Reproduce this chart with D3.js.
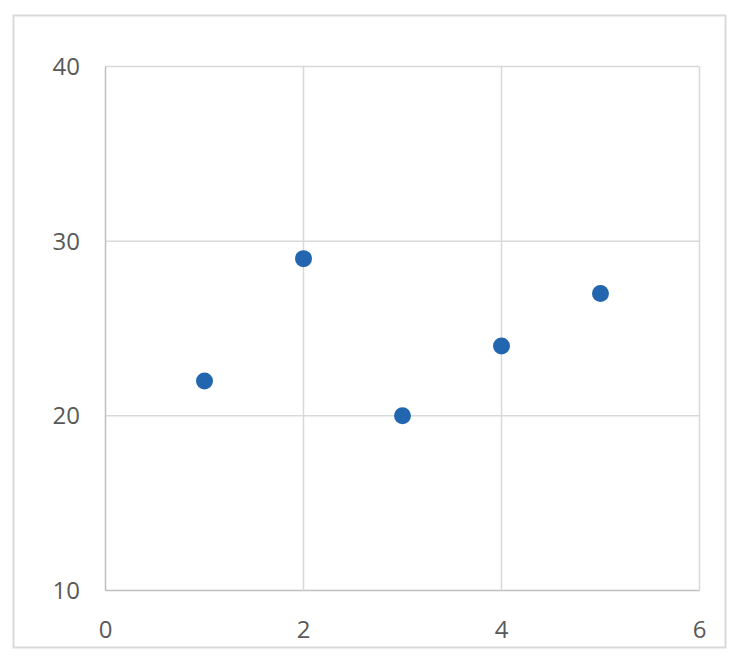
<!DOCTYPE html>
<html><head><meta charset="utf-8">
<script src="https://cdn.jsdelivr.net/npm/d3@7"></script>
<style>body{margin:0;background:#fff}svg{display:block}</style>
</head><body>
<script>
const xValues = [1, 2, 3, 4, 5];
const yValues = [22, 29, 20, 24, 27];
const xTicks = [0, 2, 4, 6];
const yTicks = [10, 20, 30, 40];

const W = 734, H = 656;
const svg = d3.select("body").append("svg").attr("width", W).attr("height", H);
svg.append("rect").attr("x", 13.5).attr("y", 15.5).attr("width", 712).attr("height", 632)
  .attr("fill", "#fff").attr("stroke", "#d9d9d9").attr("stroke-width", 2);

const x = d3.scaleLinear().domain([0, 6]).range([105.5, 699.5]);
const y = d3.scaleLinear().domain([10, 40]).range([590.5, 66.5]);

const font = "'Open Sans', 'DejaVu Sans', sans-serif";
const g = svg.append("g");
g.selectAll(".hg").data(yTicks).join("line")
  .attr("x1", x(0)).attr("x2", x(6)).attr("y1", d => y(d)).attr("y2", d => y(d))
  .attr("stroke", d => d === 10 ? "#bfbfbf" : "#d9d9d9").attr("stroke-width", 1.5);
g.selectAll(".vg").data(xTicks).join("line")
  .attr("x1", d => x(d)).attr("x2", d => x(d)).attr("y1", y(10)).attr("y2", y(40))
  .attr("stroke", d => d === 0 ? "#bfbfbf" : "#d9d9d9").attr("stroke-width", 1.5);

g.selectAll(".yl").data(yTicks).join("text")
  .attr("x", 80).attr("y", d => y(d)).attr("dy", "0.36em").attr("text-anchor", "end")
  .attr("font-family", font).attr("font-size", 24).attr("fill", "#595959").text(d => d);
g.selectAll(".xl").data(xTicks).join("text")
  .attr("x", d => x(d)).attr("y", 629).attr("dy", "0.36em").attr("text-anchor", "middle")
  .attr("font-family", font).attr("font-size", 24).attr("fill", "#595959").text(d => d);

g.selectAll("circle").data(xValues.map((v, i) => [v, yValues[i]])).join("circle")
  .attr("cx", d => x(d[0])).attr("cy", d => y(d[1])).attr("r", 8.5)
  .attr("fill", "#2166ae");
</script>
</body></html>
